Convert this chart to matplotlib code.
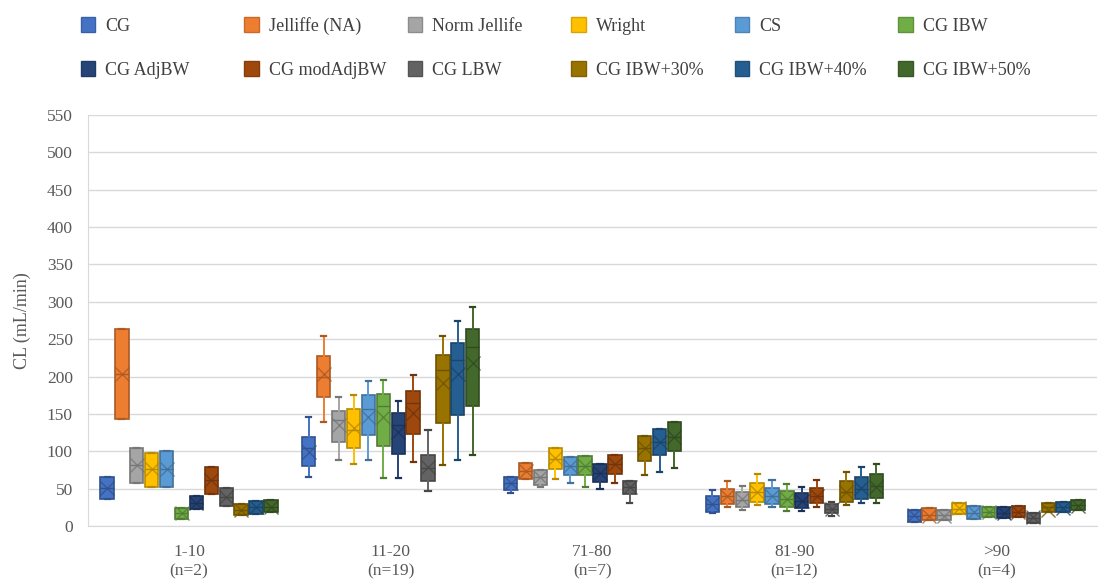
import matplotlib
matplotlib.use("Agg")
import matplotlib.pyplot as plt
from matplotlib.patches import Patch
import matplotlib.colors as mcolors
import numpy as np

plt.rcParams['font.family'] = ['Liberation Serif', 'DejaVu Serif']

groups = ['1-10\n(n=2)', '11-20\n(n=19)', '71-80\n(n=7)', '81-90\n(n=12)', '>90\n(n=4)']
series = ['CG', 'Jelliffe (NA)', 'Norm Jellife', 'Wright', 'CS', 'CG IBW',
          'CG AdjBW', 'CG modAdjBW', 'CG LBW', 'CG IBW+30%', 'CG IBW+40%', 'CG IBW+50%']
colors = ['#4472C4', '#ED7D31', '#A5A5A5', '#FFC000', '#5B9BD5', '#70AD47',
          '#264478', '#9E480E', '#636363', '#997300', '#255E91', '#43682B']

# rows = series, columns = age groups
q1 = [[35.7, 80, 48, 19, 5.8],
      [143, 173, 62.4, 30, 8],
      [58, 112, 55, 25.8, 8],
      [52.6, 105, 76, 32.5, 15.6],
      [52.6, 121.7, 68, 29.4, 10],
      [10, 107, 68, 25.8, 12.5],
      [22.3, 96, 59, 23.7, 11],
      [43, 123, 69.5, 30.3, 12.5],
      [27, 60.6, 42.8, 17, 4.4],
      [14.7, 138, 87, 32.5, 19],
      [16, 148, 95, 35.7, 19],
      [18.3, 160.8, 100.7, 37, 21.4]]
q3 = [[66, 118.6, 66, 40, 21],
      [264, 227, 84.6, 50, 23.6],
      [104.7, 153.7, 75, 45, 22],
      [98, 156, 104, 57, 31],
      [100, 175, 92, 51, 26.7],
      [24.5, 176.5, 93.6, 46.8, 25.8],
      [40.5, 151.5, 83, 43.7, 25],
      [79, 181, 95, 50.4, 26.7],
      [51, 94.5, 60, 29.4, 17],
      [30, 228.6, 120, 60.6, 31],
      [34, 245, 129.7, 65, 32.5],
      [34.8, 263, 138.6, 69.5, 34.8]]
whis_lo = [[35.7, 66, 43.7, 17, 5.8],
           [143, 138.6, 62.4, 25, 8],
           [58, 88, 51.7, 22, 8],
           [52.6, 82.5, 62.4, 28, 15.6],
           [52.6, 88, 58, 25.8, 10],
           [10, 63.8, 52.6, 20.5, 12.5],
           [22.3, 64, 49, 20.5, 11],
           [43, 86, 58, 25.8, 12.5],
           [27, 47, 31, 13.4, 4.4],
           [14.7, 81.6, 68, 28, 19],
           [16, 88, 72.6, 30.3, 19],
           [18.3, 95, 77, 31, 21.4]]
whis_hi = [[66, 146, 66, 48, 21],
           [264, 254, 84.6, 60, 23.6],
           [104.7, 172, 75, 53.5, 22],
           [98, 175, 104, 69, 31],
           [100, 194, 92, 61.5, 26.7],
           [24.5, 196, 93.6, 55.7, 25.8],
           [40.5, 167, 83, 52.6, 25],
           [79, 202, 95, 61.5, 26.7],
           [51, 128, 60, 32.5, 17],
           [30, 254, 120, 71.8, 31],
           [34, 274, 129.7, 78.5, 32.5],
           [34.8, 293, 138.6, 83, 34.8]]
medians = [[51, 105, 57, 30, 14],
           [204, 200, 73, 40, 15],
           [81, 142, 66, 35, 15],
           [75.8, 128, 90, 45, 23],
           [76, 157, 80, 40, 18],
           [17, 160, 80, 36, 19],
           [31, 135, 71, 33, 18],
           [61, 165, 83, 40, 19],
           [39, 78, 52, 23, 11],
           [22, 208.6, 104, 46, 25],
           [25, 222.8, 112, 50, 26],
           [26, 239.7, 119, 53, 28]]
means = [[51, 99, 57, 30, 14.7],
         [204, 203, 73.5, 40.5, 13],
         [81, 135, 66, 35.7, 14],
         [75.8, 130.6, 90.5, 45, 23.6],
         [76, 146, 80, 40.5, 19],
         [17, 146, 80, 36, 19],
         [31, 126, 71, 33.4, 18],
         [61, 150.7, 83, 40, 19],
         [39, 78.5, 52, 23, 12.5],
         [22, 190.8, 104, 46, 22],
         [25, 204, 112.7, 50.4, 24],
         [26, 217.5, 119.4, 52.6, 27]]


def darker(c, f=0.72):
    r, g, b = mcolors.to_rgb(c)
    return (r * f, g * f, b * f)


fig = plt.figure(figsize=(11.02, 5.83), dpi=100)
ax = fig.add_axes([0.0799, 0.0978, 0.9156, 0.7049])

step = 0.0738
width = 0.066
x0 = np.arange(len(groups))
for j, name in enumerate(series):
    stats = []
    for k in range(len(groups)):
        stats.append(dict(q1=q1[j][k], q3=q3[j][k], med=medians[j][k], mean=means[j][k],
                          whislo=whis_lo[j][k], whishi=whis_hi[j][k], fliers=[]))
    edge = darker(colors[j])
    ax.bxp(stats, positions=x0 + (j - 5.5) * step, widths=width, capwidths=0.025,
           patch_artist=True, showmeans=True, manage_ticks=False,
           boxprops=dict(facecolor=colors[j], edgecolor=edge, linewidth=1.2),
           medianprops=dict(color=edge, linewidth=1.0),
           whiskerprops=dict(color=colors[j], linewidth=1.4),
           capprops=dict(color=edge, linewidth=1.6),
           meanprops=dict(marker='x', markersize=9.5, markeredgecolor=edge,
                          markeredgewidth=1.0, alpha=0.8),
           zorder=3)

ax.set_xlim(-0.5, len(groups) - 0.5)
ax.set_ylim(0, 550)
ax.set_yticks(np.arange(0, 551, 50))
ax.set_xticks(x0)
ax.set_xticklabels(groups)
ax.grid(axis='y', color='#D9D9D9', linewidth=1.0, zorder=0)
ax.set_axisbelow(True)
for side in ['top', 'right']:
    ax.spines[side].set_visible(False)
ax.spines['left'].set_color('#D9D9D9')
ax.spines['bottom'].set_color('#D9D9D9')
ax.tick_params(axis='both', length=0, colors='#595959', labelsize=12.5)
ax.tick_params(axis='y', pad=11)
ax.tick_params(axis='x', pad=13)
for t in ax.get_xticklabels():
    t.set_linespacing(1.25)
ax.set_ylabel('CL (mL/min)', color='#595959', fontsize=13, labelpad=11)

# legend: 6 columns, filled row by row
handles = [Patch(facecolor=c, edgecolor=darker(c, 0.85)) for c in colors]
ncol = 6
for c in range(ncol):
    idx = [c, c + ncol]
    fig.legend([handles[i] for i in idx], [series[i] for i in idx],
               loc='upper left', bbox_to_anchor=(0.0735 + c * 0.1483, 0.971),
               frameon=False, fontsize=13, labelcolor='#404040',
               handlelength=0.8, handleheight=0.9, handletextpad=0.55,
               labelspacing=1.45, borderpad=0, borderaxespad=0)

fig.savefig('out.png', dpi=100)
